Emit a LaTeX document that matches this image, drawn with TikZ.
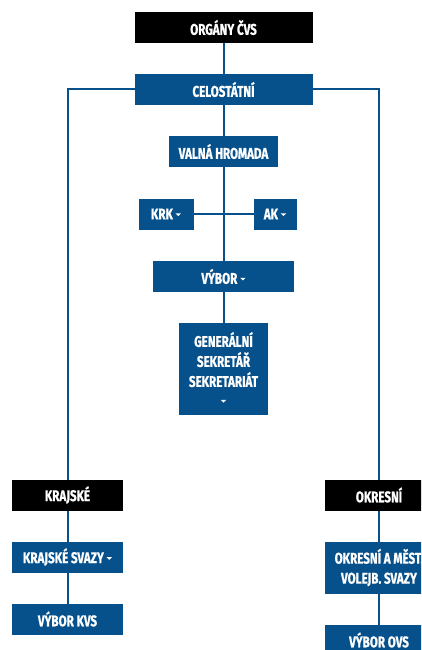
\documentclass[tikz,border=0pt]{standalone}
\usepackage{fontspec}
\usepackage{xcolor}
\usetikzlibrary{positioning}
\newfontfamily\condfont[FakeStretch=0.75, BoldFeatures={FakeBold=0.8}]{Fira Sans}
\definecolor{cvsblue}{RGB}{6,80,140}
\newcommand{\dropdn}{\tikz[baseline=0pt]\fill[white] (0pt,6pt) -- (5.5pt,6pt) -- (2.75pt,3.3pt) -- cycle;}

\begin{document}
\begin{tikzpicture}[
    box/.style={fill=cvsblue, text=white, minimum height=31pt, inner sep=2pt, outer sep=0pt,
                align=center, font=\condfont\bfseries\fontsize{15.5}{20}\selectfont},
    head/.style={box, fill=black},
    conn/.style={draw=cvsblue, line width=2pt},
    node distance=31pt
]
\useasboundingbox (0pt,0pt) rectangle (421pt,-650pt);
\clip (0pt,0pt) rectangle (421pt,-650pt);
\fill[white] (0pt,0pt) rectangle (421pt,-650pt);

\node[head, minimum width=178pt] (organy) at (223.5pt,-27.5pt) {ORGÁNY ČVS};
\node[box, minimum width=178pt, below=of organy] (celost) {CELOSTÁTNÍ};
\node[box, minimum width=109pt, below=of celost] (valna) {VALNÁ HROMADA};
\coordinate[below=47pt of valna.south] (kriz);
\node[box, minimum width=55pt, left=30pt of kriz] (krk) {KRK\,\dropdn};
\node[box, minimum width=43pt, right=30pt of kriz] (ak) {AK\,\dropdn};
\node[box, minimum width=141pt, below=47pt of kriz] (vybor) {VÝBOR~\dropdn};
\node[box, minimum width=89pt, minimum height=92pt, below=of vybor] (gen)
    {GENERÁLNÍ\\SEKRETÁŘ\\SEKRETARIÁT\\[-1pt]\dropdn};

\node[head, minimum width=111pt] (krajske) at (67.5pt,-495pt) {KRAJSKÉ};
\node[box, minimum width=111pt, below=of krajske] (ksvazy) {KRAJSKÉ SVAZY\,\dropdn};
\node[box, minimum width=111pt, below=of ksvazy] (kvs) {VÝBOR KVS};

\node[head, minimum width=108pt] (okresni) at (379pt,-495pt) {OKRESNÍ};
\node[box, minimum width=108pt, minimum height=52pt, below=of okresni] (osvazy)
    {OKRESNÍ A MĚST.\\VOLEJB. SVAZY};
\node[box, minimum width=108pt, below=of osvazy] (ovs) {VÝBOR OVS};

\draw[conn] (organy) -- (celost);
\draw[conn] (celost) -- (valna);
\draw[conn] (valna) -- (vybor);
\draw[conn] (vybor) -- (gen);
\draw[conn] (krk) -- (ak);
\draw[conn] (celost.west) -| (krajske);
\draw[conn] (celost.east) -| (okresni);
\draw[conn] (krajske) -- (ksvazy);
\draw[conn] (ksvazy) -- (kvs);
\draw[conn] (okresni) -- (osvazy);
\draw[conn] (osvazy) -- (ovs);
\end{tikzpicture}
\end{document}
